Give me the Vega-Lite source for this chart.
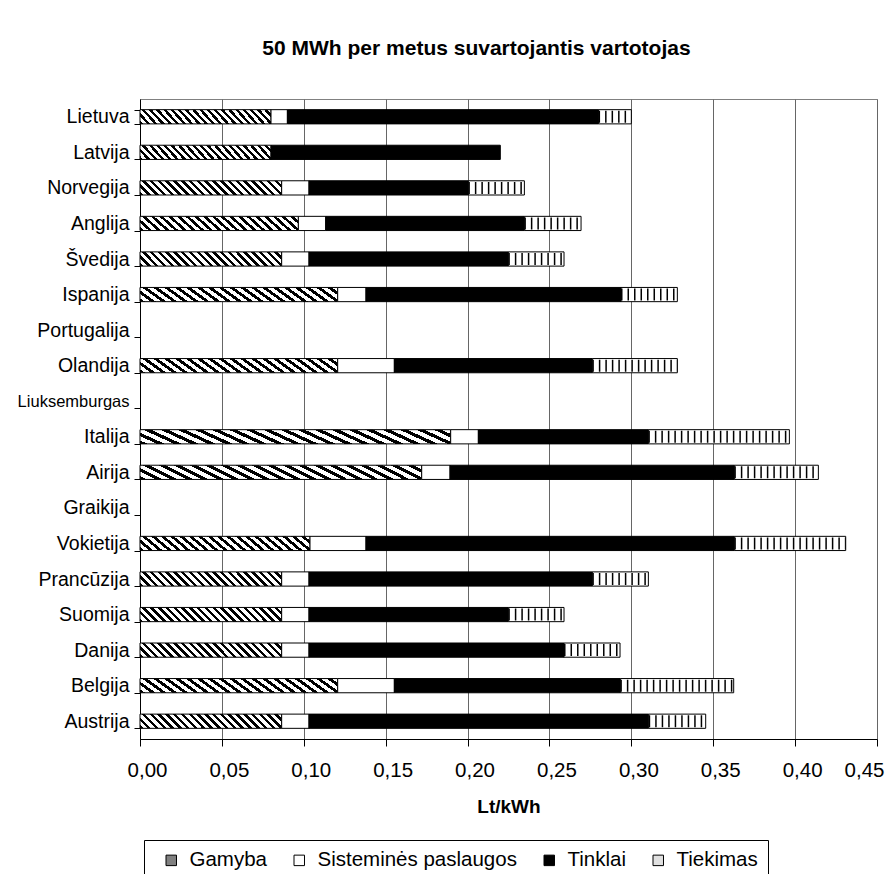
{
  "$schema": "https://vega.github.io/schema/vega-lite/v6.json",
  "width": 737,
  "height": 640,
  "autosize": {"type": "none"},
  "padding": {"left": 140, "top": 99, "right": 15, "bottom": 135},
  "background": "white",
  "title": {
    "text": "50 MWh per metus suvartojantis vartotojas",
    "fontSize": 21,
    "fontWeight": "bold",
    "anchor": "middle",
    "frame": "group",
    "dx": -32,
    "offset": 30,
    "color": "black"
  },
  "data": {
    "values": [
      {"c": "Lietuva", "k": "Gamyba", "o": 1, "v": 0.080},
      {"c": "Lietuva", "k": "Sisteminės paslaugos", "o": 2, "v": 0.010},
      {"c": "Lietuva", "k": "Tinklai", "o": 3, "v": 0.190},
      {"c": "Lietuva", "k": "Tiekimas", "o": 4, "v": 0.020},
      {"c": "Latvija", "k": "Gamyba", "o": 1, "v": 0.080},
      {"c": "Latvija", "k": "Tinklai", "o": 3, "v": 0.140},
      {"c": "Norvegija", "k": "Gamyba", "o": 1, "v": 0.0865},
      {"c": "Norvegija", "k": "Sisteminės paslaugos", "o": 2, "v": 0.0167},
      {"c": "Norvegija", "k": "Tinklai", "o": 3, "v": 0.0973},
      {"c": "Norvegija", "k": "Tiekimas", "o": 4, "v": 0.0342},
      {"c": "Anglija", "k": "Gamyba", "o": 1, "v": 0.0967},
      {"c": "Anglija", "k": "Sisteminės paslaugos", "o": 2, "v": 0.0167},
      {"c": "Anglija", "k": "Tinklai", "o": 3, "v": 0.1213},
      {"c": "Anglija", "k": "Tiekimas", "o": 4, "v": 0.0346},
      {"c": "Švedija", "k": "Gamyba", "o": 1, "v": 0.0865},
      {"c": "Švedija", "k": "Sisteminės paslaugos", "o": 2, "v": 0.0167},
      {"c": "Švedija", "k": "Tinklai", "o": 3, "v": 0.1217},
      {"c": "Švedija", "k": "Tiekimas", "o": 4, "v": 0.0340},
      {"c": "Ispanija", "k": "Gamyba", "o": 1, "v": 0.1207},
      {"c": "Ispanija", "k": "Sisteminės paslaugos", "o": 2, "v": 0.0173},
      {"c": "Ispanija", "k": "Tinklai", "o": 3, "v": 0.1557},
      {"c": "Ispanija", "k": "Tiekimas", "o": 4, "v": 0.0344},
      {"c": "Olandija", "k": "Gamyba", "o": 1, "v": 0.1207},
      {"c": "Olandija", "k": "Sisteminės paslaugos", "o": 2, "v": 0.0346},
      {"c": "Olandija", "k": "Tinklai", "o": 3, "v": 0.1209},
      {"c": "Olandija", "k": "Tiekimas", "o": 4, "v": 0.0519},
      {"c": "Italija", "k": "Gamyba", "o": 1, "v": 0.1897},
      {"c": "Italija", "k": "Sisteminės paslaugos", "o": 2, "v": 0.0169},
      {"c": "Italija", "k": "Tinklai", "o": 3, "v": 0.1038},
      {"c": "Italija", "k": "Tiekimas", "o": 4, "v": 0.0861},
      {"c": "Airija", "k": "Gamyba", "o": 1, "v": 0.1720},
      {"c": "Airija", "k": "Sisteminės paslaugos", "o": 2, "v": 0.0173},
      {"c": "Airija", "k": "Tinklai", "o": 3, "v": 0.1736},
      {"c": "Airija", "k": "Tiekimas", "o": 4, "v": 0.0513},
      {"c": "Vokietija", "k": "Gamyba", "o": 1, "v": 0.1038},
      {"c": "Vokietija", "k": "Sisteminės paslaugos", "o": 2, "v": 0.0342},
      {"c": "Vokietija", "k": "Tinklai", "o": 3, "v": 0.2249},
      {"c": "Vokietija", "k": "Tiekimas", "o": 4, "v": 0.0680},
      {"c": "Prancūzija", "k": "Gamyba", "o": 1, "v": 0.0865},
      {"c": "Prancūzija", "k": "Sisteminės paslaugos", "o": 2, "v": 0.0167},
      {"c": "Prancūzija", "k": "Tinklai", "o": 3, "v": 0.1730},
      {"c": "Prancūzija", "k": "Tiekimas", "o": 4, "v": 0.0342},
      {"c": "Suomija", "k": "Gamyba", "o": 1, "v": 0.0865},
      {"c": "Suomija", "k": "Sisteminės paslaugos", "o": 2, "v": 0.0167},
      {"c": "Suomija", "k": "Tinklai", "o": 3, "v": 0.1217},
      {"c": "Suomija", "k": "Tiekimas", "o": 4, "v": 0.0340},
      {"c": "Danija", "k": "Gamyba", "o": 1, "v": 0.0865},
      {"c": "Danija", "k": "Sisteminės paslaugos", "o": 2, "v": 0.0167},
      {"c": "Danija", "k": "Tinklai", "o": 3, "v": 0.1557},
      {"c": "Danija", "k": "Tiekimas", "o": 4, "v": 0.0342},
      {"c": "Belgija", "k": "Gamyba", "o": 1, "v": 0.1207},
      {"c": "Belgija", "k": "Sisteminės paslaugos", "o": 2, "v": 0.0346},
      {"c": "Belgija", "k": "Tinklai", "o": 3, "v": 0.1380},
      {"c": "Belgija", "k": "Tiekimas", "o": 4, "v": 0.0692},
      {"c": "Austrija", "k": "Gamyba", "o": 1, "v": 0.0865},
      {"c": "Austrija", "k": "Sisteminės paslaugos", "o": 2, "v": 0.0167},
      {"c": "Austrija", "k": "Tinklai", "o": 3, "v": 0.2074},
      {"c": "Austrija", "k": "Tiekimas", "o": 4, "v": 0.0348}
    ]
  },
  "transform": [
    {"stack": "v", "groupby": ["c"], "sort": [{"field": "o", "order": "ascending"}], "as": ["x0", "x1"]}
  ],
  "encoding": {
    "y": {
      "field": "c",
      "type": "nominal",
      "scale": {
        "domain": ["Lietuva", "Latvija", "Norvegija", "Anglija", "Švedija", "Ispanija", "Portugalija", "Olandija", "Liuksemburgas", "Italija", "Airija", "Graikija", "Vokietija", "Prancūzija", "Suomija", "Danija", "Belgija", "Austrija"],
        "paddingInner": 0.6,
        "paddingOuter": 0.3
      },
      "axis": {
        "title": null,
        "tickBand": "extent",
        "tickSize": 6,
        "labelPadding": 5,
        "labelLimit": 200,
        "labelFontSize": {"condition": {"test": "datum.value === 'Liuksemburgas'", "value": 16.5}, "value": 19.5},
        "labelColor": "black",
        "domainColor": "black",
        "tickColor": "black",
        "grid": false
      }
    },
    "x": {
      "field": "x0",
      "type": "quantitative",
      "scale": {"domain": [0, 0.45], "nice": false, "zero": true},
      "axis": {
        "values": [0, 0.05, 0.1, 0.15, 0.2, 0.25, 0.3, 0.35, 0.4, 0.45],
        "labelExpr": "replace(format(datum.value, '.2f'), '.', ',')",
        "labelFontSize": 20.5,
        "labelColor": "black",
        "labelOffset": 7,
        "labelAlign": {"condition": {"test": "datum.value > 0.44", "value": "right"}, "value": "center"},
        "labelPadding": 14,
        "labelFlush": false,
        "labelOverlap": false,
        "labelBound": false,
        "tickSize": 7,
        "tickColor": "black",
        "domainColor": "black",
        "grid": true,
        "gridColor": "#666666",
        "title": "Lt/kWh",
        "titleFontSize": 19,
        "titleFontWeight": "bold",
        "titleColor": "black",
        "titlePadding": 17
      }
    },
    "x2": {"field": "x1"}
  },
  "layer": [
    {
      "mark": {"type": "bar", "stroke": "black", "strokeWidth": 1},
      "encoding": {
        "fill": {
          "condition": [
            {"test": "datum.k === 'Gamyba'", "value": {"gradient": "linear", "x1": 0, "y1": 1, "x2": 1.089, "y2": 0.891, "stops": [
                {"offset": 0, "color": "black"}, {"offset": 0.0225, "color": "black"}, {"offset": 0.0225, "color": "white"}, {"offset": 0.05, "color": "white"},
                {"offset": 0.05, "color": "black"}, {"offset": 0.0725, "color": "black"}, {"offset": 0.0725, "color": "white"}, {"offset": 0.1, "color": "white"},
                {"offset": 0.1, "color": "black"}, {"offset": 0.1225, "color": "black"}, {"offset": 0.1225, "color": "white"}, {"offset": 0.15, "color": "white"},
                {"offset": 0.15, "color": "black"}, {"offset": 0.1725, "color": "black"}, {"offset": 0.1725, "color": "white"}, {"offset": 0.2, "color": "white"},
                {"offset": 0.2, "color": "black"}, {"offset": 0.2225, "color": "black"}, {"offset": 0.2225, "color": "white"}, {"offset": 0.25, "color": "white"},
                {"offset": 0.25, "color": "black"}, {"offset": 0.2725, "color": "black"}, {"offset": 0.2725, "color": "white"}, {"offset": 0.3, "color": "white"},
                {"offset": 0.3, "color": "black"}, {"offset": 0.3225, "color": "black"}, {"offset": 0.3225, "color": "white"}, {"offset": 0.35, "color": "white"},
                {"offset": 0.35, "color": "black"}, {"offset": 0.3725, "color": "black"}, {"offset": 0.3725, "color": "white"}, {"offset": 0.4, "color": "white"},
                {"offset": 0.4, "color": "black"}, {"offset": 0.4225, "color": "black"}, {"offset": 0.4225, "color": "white"}, {"offset": 0.45, "color": "white"},
                {"offset": 0.45, "color": "black"}, {"offset": 0.4725, "color": "black"}, {"offset": 0.4725, "color": "white"}, {"offset": 0.5, "color": "white"},
                {"offset": 0.5, "color": "black"}, {"offset": 0.5225, "color": "black"}, {"offset": 0.5225, "color": "white"}, {"offset": 0.55, "color": "white"},
                {"offset": 0.55, "color": "black"}, {"offset": 0.5725, "color": "black"}, {"offset": 0.5725, "color": "white"}, {"offset": 0.6, "color": "white"},
                {"offset": 0.6, "color": "black"}, {"offset": 0.6225, "color": "black"}, {"offset": 0.6225, "color": "white"}, {"offset": 0.65, "color": "white"},
                {"offset": 0.65, "color": "black"}, {"offset": 0.6725, "color": "black"}, {"offset": 0.6725, "color": "white"}, {"offset": 0.7, "color": "white"},
                {"offset": 0.7, "color": "black"}, {"offset": 0.7225, "color": "black"}, {"offset": 0.7225, "color": "white"}, {"offset": 0.75, "color": "white"},
                {"offset": 0.75, "color": "black"}, {"offset": 0.7725, "color": "black"}, {"offset": 0.7725, "color": "white"}, {"offset": 0.8, "color": "white"},
                {"offset": 0.8, "color": "black"}, {"offset": 0.8225, "color": "black"}, {"offset": 0.8225, "color": "white"}, {"offset": 0.85, "color": "white"},
                {"offset": 0.85, "color": "black"}, {"offset": 0.8725, "color": "black"}, {"offset": 0.8725, "color": "white"}, {"offset": 0.9, "color": "white"},
                {"offset": 0.9, "color": "black"}, {"offset": 0.9225, "color": "black"}, {"offset": 0.9225, "color": "white"}, {"offset": 0.95, "color": "white"},
                {"offset": 0.95, "color": "black"}, {"offset": 0.9725, "color": "black"}, {"offset": 0.9725, "color": "white"}, {"offset": 1, "color": "white"}
              ]}},
            {"test": "datum.k === 'Tiekimas'", "value": "white"}
          ],
          "field": "k",
          "type": "nominal",
          "scale": {
            "domain": ["Gamyba", "Sisteminės paslaugos", "Tinklai", "Tiekimas"],
            "range": ["#808080", "white", "black", "#e0e0e0"]
          },
          "legend": {
            "title": null,
            "orient": "none",
            "legendX": 4,
            "legendY": 741,
            "direction": "horizontal",
            "columns": 4,
            "symbolType": "square",
            "symbolSize": 110,
            "symbolStrokeColor": "black",
            "symbolStrokeWidth": 1,
            "symbolOffset": 7,
            "labelFontSize": 20.5,
            "labelColor": "black",
            "labelOffset": 8,
            "labelLimit": 400,
            "columnPadding": 15,
            "padding": 10,
            "strokeColor": "black",
            "fillColor": "white"
          }
        }
      }
    },
    {
      "transform": [{"filter": "datum.k === 'Tiekimas'"}],
      "mark": {"type": "rule", "color": "black", "strokeWidth": 12, "strokeDash": [1.5, 5], "strokeCap": "butt"},
      "encoding": {}
    }
  ],
  "config": {
    "font": "Liberation Sans",
    "view": {"stroke": "#808080", "strokeWidth": 1}
  }
}
